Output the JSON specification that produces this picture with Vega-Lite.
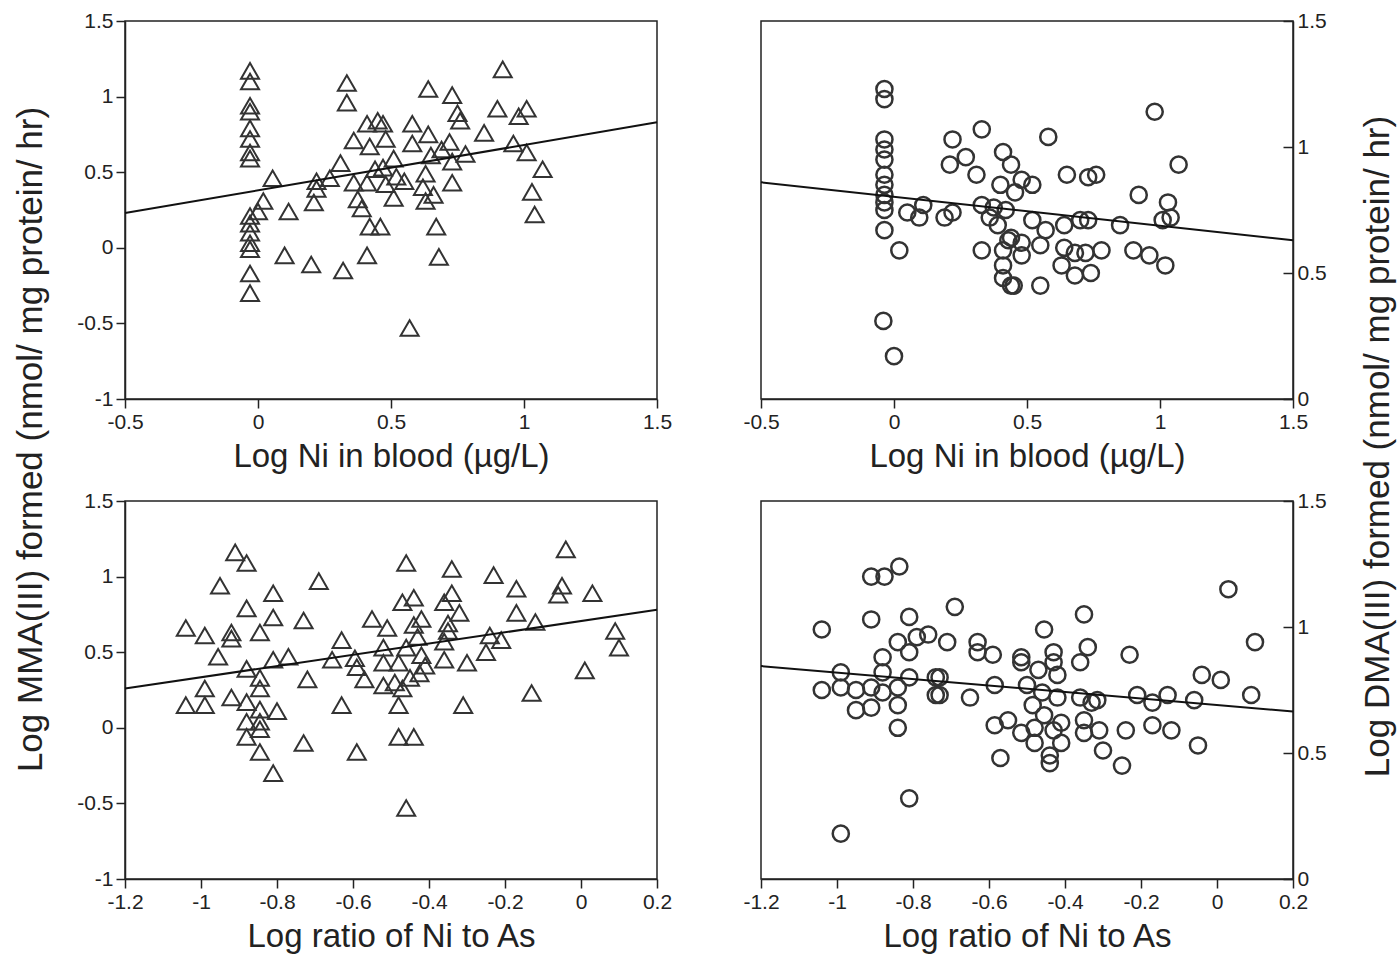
{
  "$schema": "https://vega.github.io/schema/vega-lite/v6.json",
  "background": "white",
  "padding": {"left": 12, "top": 9, "right": 5, "bottom": 5},
  "bounds": "flush",
  "columns": 2,
  "spacing": {"row": 102, "column": 104},
  "config": {
    "font": "Liberation Sans",
    "view": {"stroke": "#222", "strokeWidth": 1.5},
    "axis": {
      "grid": false,
      "domainColor": "#222",
      "domainWidth": 1.5,
      "tickColor": "#222",
      "tickWidth": 1.5,
      "tickSize": 9,
      "labelColor": "#222",
      "titleColor": "#222",
      "labelFont": "Liberation Sans",
      "titleFont": "Liberation Sans",
      "labelFontSize": 21,
      "titleFontSize": 33,
      "titleFontWeight": "normal",
      "labelPadding": 3,
      "labelFlush": false,
      "labelOverlap": false,
      "labelExpr": "toString(datum.value)"
    }
  },
  "datasets": {
    "tl": [
      {"x": -0.03, "y": 1.17}, {"x": -0.03, "y": 1.10}, {"x": -0.03, "y": 0.94}, {"x": -0.03, "y": 0.90},
      {"x": -0.03, "y": 0.79}, {"x": -0.03, "y": 0.72}, {"x": -0.03, "y": 0.63}, {"x": -0.03, "y": 0.59},
      {"x": -0.03, "y": 0.21}, {"x": -0.03, "y": 0.16}, {"x": -0.03, "y": 0.10}, {"x": -0.03, "y": 0.03},
      {"x": -0.03, "y": -0.01}, {"x": -0.03, "y": -0.17}, {"x": -0.03, "y": -0.30},
      {"x": 0.334, "y": 1.09}, {"x": 0.334, "y": 0.96}, {"x": 0.055, "y": 0.46}, {"x": 0.22, "y": 0.44},
      {"x": 0.27, "y": 0.46}, {"x": 0.31, "y": 0.56}, {"x": 0.02, "y": 0.31}, {"x": 0.0, "y": 0.24},
      {"x": 0.115, "y": 0.24}, {"x": 0.22, "y": 0.39}, {"x": 0.21, "y": 0.30}, {"x": 0.10, "y": -0.05},
      {"x": 0.20, "y": -0.11}, {"x": 0.32, "y": -0.15}, {"x": 0.41, "y": -0.05}, {"x": 0.41, "y": 0.82},
      {"x": 0.45, "y": 0.84}, {"x": 0.47, "y": 0.82}, {"x": 0.36, "y": 0.71}, {"x": 0.42, "y": 0.67},
      {"x": 0.48, "y": 0.72}, {"x": 0.44, "y": 0.52}, {"x": 0.47, "y": 0.53}, {"x": 0.36, "y": 0.43},
      {"x": 0.41, "y": 0.43}, {"x": 0.48, "y": 0.42}, {"x": 0.375, "y": 0.32}, {"x": 0.39, "y": 0.26},
      {"x": 0.42, "y": 0.14}, {"x": 0.46, "y": 0.14}, {"x": 0.51, "y": 0.33}, {"x": 0.51, "y": 0.59},
      {"x": 0.92, "y": 1.18}, {"x": 0.64, "y": 1.05}, {"x": 0.73, "y": 1.01}, {"x": 0.90, "y": 0.92},
      {"x": 1.01, "y": 0.92}, {"x": 0.98, "y": 0.87}, {"x": 0.75, "y": 0.89}, {"x": 0.76, "y": 0.84},
      {"x": 0.58, "y": 0.82}, {"x": 0.64, "y": 0.75}, {"x": 0.85, "y": 0.76}, {"x": 0.58, "y": 0.69},
      {"x": 0.72, "y": 0.70}, {"x": 0.69, "y": 0.65}, {"x": 0.96, "y": 0.69}, {"x": 1.01, "y": 0.63},
      {"x": 0.65, "y": 0.61}, {"x": 0.73, "y": 0.57}, {"x": 0.78, "y": 0.62}, {"x": 1.07, "y": 0.52},
      {"x": 0.63, "y": 0.49}, {"x": 0.55, "y": 0.44}, {"x": 0.73, "y": 0.43}, {"x": 0.62, "y": 0.40},
      {"x": 0.66, "y": 0.35}, {"x": 0.63, "y": 0.31}, {"x": 1.03, "y": 0.37}, {"x": 1.04, "y": 0.22},
      {"x": 0.67, "y": 0.14}, {"x": 0.68, "y": -0.06}, {"x": 0.57, "y": -0.53}, {"x": 0.52, "y": 0.47}
    ],
    "tr": [
      {"x": -0.036, "y": 1.23}, {"x": -0.036, "y": 1.19}, {"x": -0.036, "y": 1.03}, {"x": -0.036, "y": 0.99},
      {"x": -0.036, "y": 0.95}, {"x": -0.036, "y": 0.89}, {"x": -0.036, "y": 0.85}, {"x": -0.036, "y": 0.81},
      {"x": -0.036, "y": 0.78}, {"x": -0.036, "y": 0.75}, {"x": -0.036, "y": 0.67},
      {"x": 0.02, "y": 0.59}, {"x": -0.04, "y": 0.31}, {"x": 0.0, "y": 0.17}, {"x": 0.11, "y": 0.77},
      {"x": 0.05, "y": 0.74}, {"x": 0.095, "y": 0.72}, {"x": 0.19, "y": 0.72}, {"x": 0.22, "y": 0.74},
      {"x": 0.33, "y": 1.07}, {"x": 0.22, "y": 1.03}, {"x": 0.27, "y": 0.96}, {"x": 0.21, "y": 0.93},
      {"x": 0.31, "y": 0.89}, {"x": 0.41, "y": 0.98}, {"x": 0.44, "y": 0.93}, {"x": 0.40, "y": 0.85},
      {"x": 0.33, "y": 0.77}, {"x": 0.375, "y": 0.76}, {"x": 0.42, "y": 0.75}, {"x": 0.36, "y": 0.72},
      {"x": 0.39, "y": 0.69}, {"x": 0.33, "y": 0.59}, {"x": 0.43, "y": 0.63}, {"x": 0.41, "y": 0.59},
      {"x": 0.41, "y": 0.53}, {"x": 0.41, "y": 0.48}, {"x": 0.44, "y": 0.45},
      {"x": 0.98, "y": 1.14}, {"x": 0.58, "y": 1.04}, {"x": 1.07, "y": 0.93}, {"x": 0.65, "y": 0.89},
      {"x": 0.73, "y": 0.88}, {"x": 0.76, "y": 0.89}, {"x": 0.48, "y": 0.87}, {"x": 0.52, "y": 0.85},
      {"x": 0.455, "y": 0.82}, {"x": 0.92, "y": 0.81}, {"x": 1.03, "y": 0.78}, {"x": 1.01, "y": 0.71},
      {"x": 1.04, "y": 0.72}, {"x": 0.52, "y": 0.71}, {"x": 0.70, "y": 0.71}, {"x": 0.73, "y": 0.71},
      {"x": 0.85, "y": 0.69}, {"x": 0.64, "y": 0.69}, {"x": 0.57, "y": 0.67}, {"x": 0.48, "y": 0.62},
      {"x": 0.55, "y": 0.61}, {"x": 0.64, "y": 0.60}, {"x": 0.44, "y": 0.64}, {"x": 0.68, "y": 0.58},
      {"x": 0.72, "y": 0.58}, {"x": 0.78, "y": 0.59}, {"x": 0.90, "y": 0.59}, {"x": 0.96, "y": 0.57},
      {"x": 0.48, "y": 0.57}, {"x": 0.63, "y": 0.53}, {"x": 0.68, "y": 0.49}, {"x": 0.74, "y": 0.50},
      {"x": 1.02, "y": 0.53}, {"x": 0.45, "y": 0.45}, {"x": 0.55, "y": 0.45}
    ],
    "bl": [
      {"x": -0.91, "y": 1.16}, {"x": -0.88, "y": 1.09}, {"x": -0.95, "y": 0.94}, {"x": -0.69, "y": 0.97},
      {"x": -0.81, "y": 0.89}, {"x": -0.88, "y": 0.79}, {"x": -0.81, "y": 0.73}, {"x": -0.73, "y": 0.71},
      {"x": -1.04, "y": 0.66}, {"x": -0.99, "y": 0.61}, {"x": -0.92, "y": 0.63}, {"x": -0.92, "y": 0.59},
      {"x": -0.845, "y": 0.63}, {"x": -0.955, "y": 0.47}, {"x": -0.88, "y": 0.39}, {"x": -0.81, "y": 0.45},
      {"x": -0.77, "y": 0.47}, {"x": -0.845, "y": 0.33}, {"x": -0.845, "y": 0.26}, {"x": -0.72, "y": 0.32},
      {"x": -0.99, "y": 0.26}, {"x": -1.04, "y": 0.15}, {"x": -0.99, "y": 0.15}, {"x": -0.92, "y": 0.20},
      {"x": -0.88, "y": 0.17}, {"x": -0.845, "y": 0.12}, {"x": -0.80, "y": 0.11}, {"x": -0.88, "y": 0.04},
      {"x": -0.845, "y": 0.04}, {"x": -0.845, "y": -0.01}, {"x": -0.88, "y": -0.06}, {"x": -0.845, "y": -0.16},
      {"x": -0.73, "y": -0.10}, {"x": -0.81, "y": -0.30},
      {"x": -0.46, "y": 1.09}, {"x": -0.34, "y": 1.05}, {"x": -0.47, "y": 0.83}, {"x": -0.44, "y": 0.86},
      {"x": -0.36, "y": 0.83}, {"x": -0.34, "y": 0.89}, {"x": -0.55, "y": 0.72}, {"x": -0.51, "y": 0.66},
      {"x": -0.42, "y": 0.72}, {"x": -0.44, "y": 0.68}, {"x": -0.35, "y": 0.69}, {"x": -0.32, "y": 0.76},
      {"x": -0.35, "y": 0.64}, {"x": -0.43, "y": 0.60}, {"x": -0.63, "y": 0.58}, {"x": -0.52, "y": 0.53},
      {"x": -0.46, "y": 0.53}, {"x": -0.36, "y": 0.57}, {"x": -0.655, "y": 0.45}, {"x": -0.595, "y": 0.46},
      {"x": -0.59, "y": 0.40}, {"x": -0.52, "y": 0.43}, {"x": -0.48, "y": 0.43}, {"x": -0.42, "y": 0.48},
      {"x": -0.41, "y": 0.41}, {"x": -0.36, "y": 0.45}, {"x": -0.30, "y": 0.43}, {"x": -0.57, "y": 0.32},
      {"x": -0.52, "y": 0.28}, {"x": -0.49, "y": 0.30}, {"x": -0.47, "y": 0.26}, {"x": -0.45, "y": 0.33},
      {"x": -0.425, "y": 0.36}, {"x": -0.63, "y": 0.15}, {"x": -0.48, "y": 0.15}, {"x": -0.31, "y": 0.15},
      {"x": -0.48, "y": -0.06}, {"x": -0.44, "y": -0.06}, {"x": -0.59, "y": -0.16}, {"x": -0.46, "y": -0.53},
      {"x": -0.04, "y": 1.18}, {"x": -0.23, "y": 1.01}, {"x": -0.17, "y": 0.92}, {"x": -0.05, "y": 0.94},
      {"x": -0.06, "y": 0.88}, {"x": 0.03, "y": 0.89}, {"x": -0.17, "y": 0.76}, {"x": -0.12, "y": 0.70},
      {"x": -0.24, "y": 0.61}, {"x": -0.21, "y": 0.58}, {"x": -0.25, "y": 0.50}, {"x": 0.09, "y": 0.64},
      {"x": 0.10, "y": 0.53}, {"x": 0.01, "y": 0.38}, {"x": -0.13, "y": 0.23}
    ],
    "br": [
      {"x": -0.836, "y": 1.24}, {"x": -0.91, "y": 1.20}, {"x": -0.875, "y": 1.20}, {"x": -1.04, "y": 0.99},
      {"x": -0.91, "y": 1.03}, {"x": -0.81, "y": 1.04}, {"x": -0.84, "y": 0.94}, {"x": -0.81, "y": 0.90},
      {"x": -0.79, "y": 0.96}, {"x": -0.76, "y": 0.97}, {"x": -0.88, "y": 0.88}, {"x": -0.99, "y": 0.82},
      {"x": -0.88, "y": 0.82}, {"x": -0.81, "y": 0.80}, {"x": -0.74, "y": 0.80}, {"x": -1.04, "y": 0.75},
      {"x": -0.99, "y": 0.76}, {"x": -0.95, "y": 0.75}, {"x": -0.91, "y": 0.76}, {"x": -0.88, "y": 0.74},
      {"x": -0.84, "y": 0.76}, {"x": -0.74, "y": 0.73}, {"x": -0.95, "y": 0.67}, {"x": -0.91, "y": 0.68},
      {"x": -0.84, "y": 0.69}, {"x": -0.84, "y": 0.60}, {"x": -0.81, "y": 0.32}, {"x": -0.99, "y": 0.18},
      {"x": -0.69, "y": 1.08}, {"x": -0.35, "y": 1.05}, {"x": -0.455, "y": 0.99}, {"x": -0.71, "y": 0.94},
      {"x": -0.63, "y": 0.94}, {"x": -0.63, "y": 0.90}, {"x": -0.59, "y": 0.89}, {"x": -0.515, "y": 0.88},
      {"x": -0.515, "y": 0.86}, {"x": -0.43, "y": 0.90}, {"x": -0.43, "y": 0.86}, {"x": -0.36, "y": 0.86},
      {"x": -0.34, "y": 0.92}, {"x": -0.47, "y": 0.83}, {"x": -0.42, "y": 0.81}, {"x": -0.73, "y": 0.80},
      {"x": -0.73, "y": 0.73}, {"x": -0.585, "y": 0.77}, {"x": -0.50, "y": 0.77}, {"x": -0.65, "y": 0.72},
      {"x": -0.46, "y": 0.74}, {"x": -0.42, "y": 0.72}, {"x": -0.36, "y": 0.72}, {"x": -0.33, "y": 0.70},
      {"x": -0.485, "y": 0.69}, {"x": -0.455, "y": 0.65}, {"x": -0.55, "y": 0.63}, {"x": -0.585, "y": 0.61},
      {"x": -0.515, "y": 0.58}, {"x": -0.48, "y": 0.60}, {"x": -0.43, "y": 0.59}, {"x": -0.41, "y": 0.62},
      {"x": -0.35, "y": 0.63}, {"x": -0.35, "y": 0.58}, {"x": -0.48, "y": 0.54}, {"x": -0.41, "y": 0.54},
      {"x": -0.57, "y": 0.48}, {"x": -0.44, "y": 0.49}, {"x": -0.44, "y": 0.46},
      {"x": 0.03, "y": 1.15}, {"x": 0.10, "y": 0.94}, {"x": -0.23, "y": 0.89}, {"x": -0.04, "y": 0.81},
      {"x": 0.01, "y": 0.79}, {"x": -0.315, "y": 0.71}, {"x": -0.21, "y": 0.73}, {"x": -0.17, "y": 0.70},
      {"x": -0.13, "y": 0.73}, {"x": -0.06, "y": 0.71}, {"x": 0.09, "y": 0.73}, {"x": -0.31, "y": 0.59},
      {"x": -0.24, "y": 0.59}, {"x": -0.17, "y": 0.61}, {"x": -0.12, "y": 0.59}, {"x": -0.30, "y": 0.51},
      {"x": -0.05, "y": 0.53}, {"x": -0.25, "y": 0.45}
    ],
    "tl_line": [{"x": -0.5, "y": 0.23}, {"x": 1.5, "y": 0.83}],
    "tr_line": [{"x": -0.5, "y": 0.86}, {"x": 1.5, "y": 0.63}],
    "bl_line": [{"x": -1.2, "y": 0.26}, {"x": 0.2, "y": 0.78}],
    "br_line": [{"x": -1.2, "y": 0.845}, {"x": 0.2, "y": 0.665}]
  },
  "concat": [
    {
      "width": 532,
      "height": 378,
      "encoding": {
        "x": {"field": "x", "type": "quantitative",
          "scale": {"domain": [-0.5, 1.5], "nice": false, "zero": false},
          "axis": {"values": [-0.5, 0, 0.5, 1, 1.5], "title": "Log Ni in blood (µg/L)", "titlePadding": 8}},
        "y": {"field": "y", "type": "quantitative",
          "scale": {"domain": [-1, 1.5], "nice": false, "zero": false},
          "axis": {"orient": "left", "values": [-1, -0.5, 0, 0.5, 1, 1.5],
            "title": "Log MMA(III) formed (nmol/ mg protein/ hr)", "titleFontSize": 35,
            "titleAngle": -90, "titleX": -95, "titleY": 418, "titleAlign": "center", "titleBaseline": "middle"}}
      },
      "layer": [
        {"data": {"name": "tl"}, "mark": {"type": "point", "shape": "triangle-up", "size": 324, "filled": false, "stroke": "#333", "strokeWidth": 2, "opacity": 1}},
        {"data": {"name": "tl_line"}, "mark": {"type": "line", "color": "#111", "strokeWidth": 2}}
      ]
    },
    {
      "width": 532,
      "height": 378,
      "encoding": {
        "x": {"field": "x", "type": "quantitative",
          "scale": {"domain": [-0.5, 1.5], "nice": false, "zero": false},
          "axis": {"values": [-0.5, 0, 0.5, 1, 1.5], "title": "Log Ni in blood (µg/L)", "titlePadding": 8}},
        "y": {"field": "y", "type": "quantitative",
          "scale": {"domain": [0, 1.5], "nice": false, "zero": false},
          "axis": {"orient": "right", "values": [0, 0.5, 1, 1.5], "tickSize": -10, "labelPadding": 14,
            "title": "Log DMA(III) formed (nmol/ mg protein/ hr)", "titleFontSize": 35,
            "titleAngle": -90, "titleX": 84, "titleY": 425, "titleAlign": "center", "titleBaseline": "middle"}}
      },
      "layer": [
        {"data": {"name": "tr"}, "mark": {"type": "point", "shape": "circle", "size": 260, "filled": false, "stroke": "#333", "strokeWidth": 2.5, "opacity": 1}},
        {"data": {"name": "tr_line"}, "mark": {"type": "line", "color": "#111", "strokeWidth": 2}}
      ]
    },
    {
      "width": 532,
      "height": 378,
      "encoding": {
        "x": {"field": "x", "type": "quantitative",
          "scale": {"domain": [-1.2, 0.2], "nice": false, "zero": false},
          "axis": {"values": [-1.2, -1, -0.8, -0.6, -0.4, -0.2, 0, 0.2], "title": "Log ratio of Ni to As", "titlePadding": 8}},
        "y": {"field": "y", "type": "quantitative",
          "scale": {"domain": [-1, 1.5], "nice": false, "zero": false},
          "axis": {"orient": "left", "values": [-1, -0.5, 0, 0.5, 1, 1.5], "title": null}}
      },
      "layer": [
        {"data": {"name": "bl"}, "mark": {"type": "point", "shape": "triangle-up", "size": 324, "filled": false, "stroke": "#333", "strokeWidth": 2, "opacity": 1}},
        {"data": {"name": "bl_line"}, "mark": {"type": "line", "color": "#111", "strokeWidth": 2}}
      ]
    },
    {
      "width": 532,
      "height": 378,
      "encoding": {
        "x": {"field": "x", "type": "quantitative",
          "scale": {"domain": [-1.2, 0.2], "nice": false, "zero": false},
          "axis": {"values": [-1.2, -1, -0.8, -0.6, -0.4, -0.2, 0, 0.2], "title": "Log ratio of Ni to As", "titlePadding": 8}},
        "y": {"field": "y", "type": "quantitative",
          "scale": {"domain": [0, 1.5], "nice": false, "zero": false},
          "axis": {"orient": "right", "values": [0, 0.5, 1, 1.5], "tickSize": -10, "labelPadding": 14, "title": null}}
      },
      "layer": [
        {"data": {"name": "br"}, "mark": {"type": "point", "shape": "circle", "size": 260, "filled": false, "stroke": "#333", "strokeWidth": 2.5, "opacity": 1}},
        {"data": {"name": "br_line"}, "mark": {"type": "line", "color": "#111", "strokeWidth": 2}}
      ]
    }
  ]
}
